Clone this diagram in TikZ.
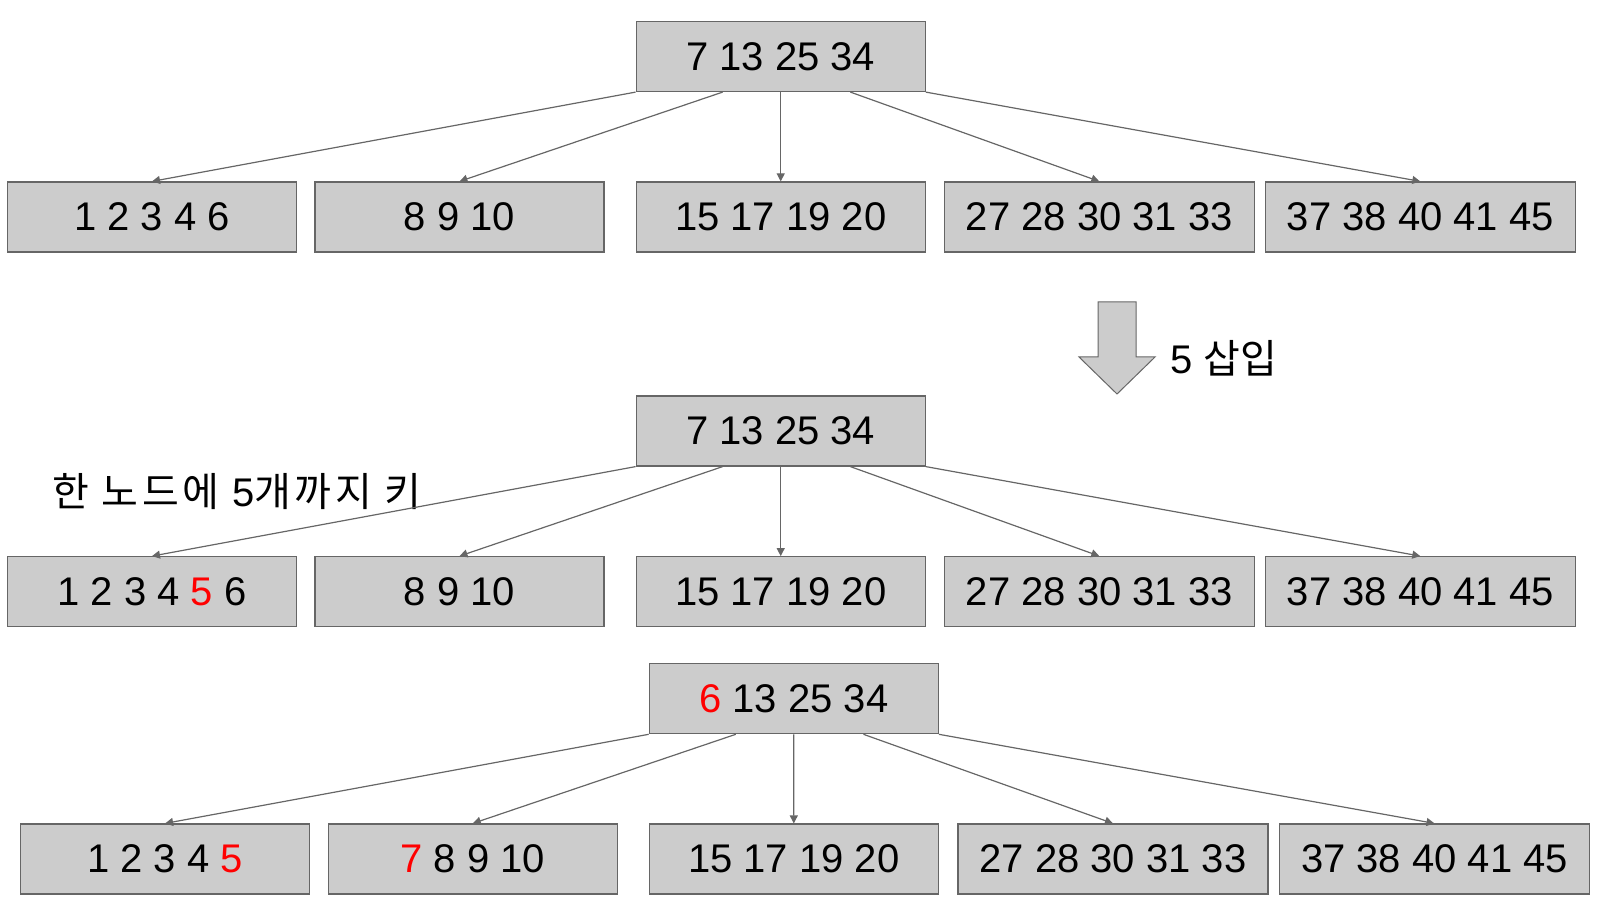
\documentclass[tikz,border=0pt]{standalone}
\usepackage{fontspec}
\setmainfont{Liberation Sans}
\newfontfamily\krfont{Noto Sans CJK KR}
\newfontfamily\krwide[LetterSpace=9]{Noto Sans CJK KR}
\usepackage{xcolor}
\usetikzlibrary{arrows.meta,calc}

\definecolor{boxgray}{HTML}{CCCCCC}
\definecolor{linegray}{HTML}{666666}
\definecolor{keyred}{HTML}{FF0000}

\tikzset{
  keynode/.style={draw=linegray, fill=boxgray, line width=0.6pt, minimum height=35pt,
    minimum width=144.5pt, inner sep=0pt, font=\fontsize{20}{24}\selectfont},
  widenode/.style={keynode, minimum width=155pt},
  link/.style={draw=linegray, line width=0.6pt, -{Triangle[length=4pt,width=4pt]}},
  label/.style={font=\fontsize{20}{24}\selectfont, inner sep=0pt}
}

\begin{document}
\begin{tikzpicture}[x=0.5pt, y=-0.5pt]
			\useasboundingbox (0,0) rectangle (1598,897);
			% 삽입 전
			\node[keynode] (r1) at (780.7,56.5) {7 13 25 34};
			\node[keynode] (a1) at (152,217) {1 2 3 4 6};
			\node[keynode] (a2) at (459.5,217) {8 9 10};
			\node[keynode] (a3) at (780.7,217) {15 17 19 20};
			\node[widenode] (a4) at (1099.3,217) {27 28 30 31 33};
			\node[widenode] (a5) at (1420.3,217) {37 38 40 41 45};
			% 5 삽입
			\draw[draw=linegray, fill=boxgray, line width=0.5pt]
				(1098,302) -- (1136,302) -- (1136,357) -- (1155,357) -- (1117,394)
				-- (1079,357) -- (1098,357) -- cycle;
			\node[label, anchor=west] (ins) at (1170,358) {5 {\krfont 삽입}};
			% 삽입 후 (넘침)
			\node[keynode] (r2) at (780.7,431) {7 13 25 34};
			\node[keynode] (b1) at (152,591.7) {1 2 3 4 \textcolor{keyred}{5} 6};
			\node[keynode] (b2) at (459.5,591.7) {8 9 10};
			\node[keynode] (b3) at (780.7,591.7) {15 17 19 20};
			\node[widenode] (b4) at (1099.3,591.7) {27 28 30 31 33};
			\node[widenode] (b5) at (1420.3,591.7) {37 38 40 41 45};
			\node[label] (note) at (237,492) {{\krwide 한 노드에 }5{\krwide 개까지 키}};
			% 재분배 후
			\node[keynode] (r3) at (793.8,698.7) {\textcolor{keyred}{6} 13 25 34};
			\node[keynode] (c1) at (165.1,859) {1 2 3 4 \textcolor{keyred}{5}};
			\node[keynode] (c2) at (472.8,859) {\textcolor{keyred}{7} 8 9 10};
			\node[keynode] (c3) at (793.8,859) {15 17 19 20};
			\node[widenode] (c4) at (1112.9,859) {27 28 30 31 33};
			\node[widenode] (c5) at (1434.5,859) {37 38 40 41 45};
			% 간선
			\foreach \r/\k in {r1/a, r2/b, r3/c}
				\foreach \f/\i in {0/1, 0.3/2, 0.5/3, 0.74/4, 1/5}
					\draw[link] ($(\r.south west)!\f!(\r.south east)$) -- (\k\i.north);
\end{tikzpicture}
\end{document}
